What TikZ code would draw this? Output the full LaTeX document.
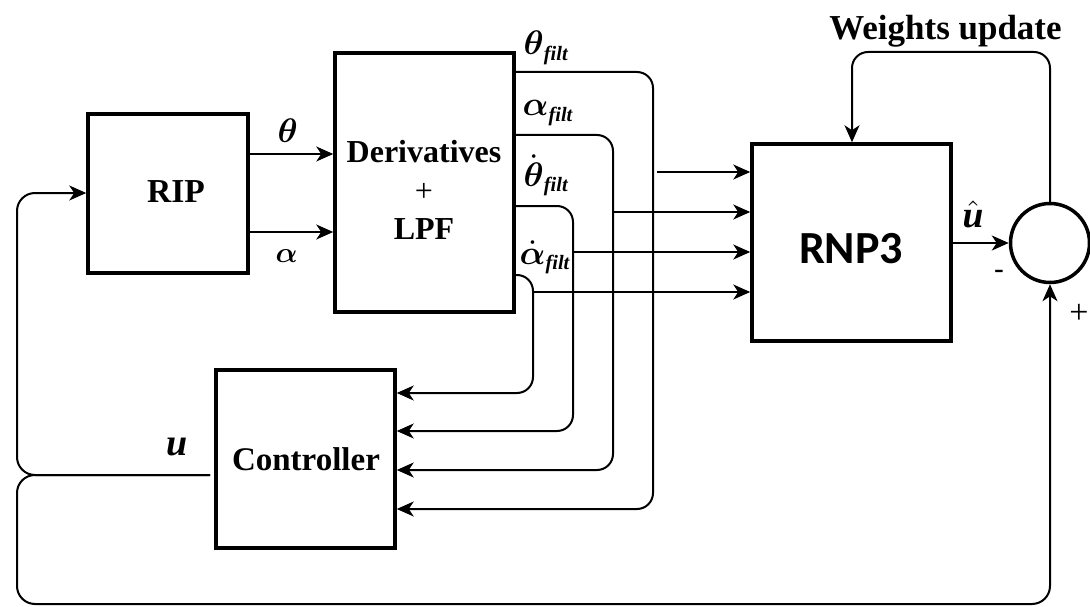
\documentclass[tikz,border=0pt]{standalone}
\usepackage{amsmath}
\usepackage{fontspec}
\setmainfont{Liberation Serif}
\newfontfamily\carlitofont{Carlito}
\usetikzlibrary{arrows.meta}
\newcommand{\filt}{\text{\fontsize{6}{7}\selectfont\bfseries\itshape filt}}
\begin{document}
\begin{tikzpicture}[x=1pt,y=-1pt,
  blk/.style={draw, line width=3.5pt, inner sep=0pt},
  conn/.style={line width=2pt, rounded corners=16pt},
  arr/.style={conn, -{Stealth[length=17pt,width=15pt,inset=5pt]}},
  btxt/.style={font=\fontsize{32}{38}\selectfont\bfseries, inner sep=0pt, anchor=base},
  mth/.style={font=\fontsize{10}{12}\selectfont, scale=3.4, transform shape, inner sep=0pt, anchor=base west},
  itl/.style={font=\fontsize{38}{44}\selectfont, inner sep=0pt, anchor=base west}]
\useasboundingbox (0,0) rectangle (1090,607);
% blocks
\node[blk, minimum width=160pt, minimum height=159pt] (rip) at (168,193.5) {};
\node[blk, minimum width=179pt, minimum height=259pt] (der) at (424.5,182.5) {};
\node[blk, minimum width=179pt, minimum height=178pt] (ctl) at (305.5,459) {};
\node[blk, minimum width=199pt, minimum height=197pt] (rnp) at (851.5,242.5) {};
\node[draw, circle, line width=3.5pt, minimum size=79pt, inner sep=0pt] (sum) at (1050,243) {};
% block texts
\node[btxt, font=\fontsize{33.5}{38}\selectfont\bfseries] (riptxt) at (176,203) {RIP};
\node[btxt] (dertxt) at (424,163) {Derivatives};
\node[font=\fontsize{32}{38}\selectfont, inner sep=0pt] (plustxt) at (424,192) {+};
\node[btxt] (lpftxt) at (424,239) {LPF};
\node[btxt, font=\fontsize{33}{38}\selectfont\bfseries] (ctltxt) at (306,470) {Controller};
\node[font=\fontsize{46}{52}\selectfont\carlitofont\bfseries, inner sep=0pt, anchor=base] (rnptxt) at (851,263) {RNP3};
\node[btxt, font=\fontsize{35}{40}\selectfont\bfseries] (wtxt) at (945.5,40) {Weights update};
% helper coordinates
\coordinate (r154) at (0,154);
\coordinate (r232) at (0,232);
\coordinate (r72) at (0,72);
\coordinate (r135) at (0,135);
\coordinate (r206) at (0,206);
\coordinate (r275) at (0,275);
\coordinate (c393) at (0,393);
\coordinate (c431) at (0,431);
\coordinate (c470) at (0,470);
\coordinate (c509) at (0,509);
\coordinate (n212) at (0,212);
\coordinate (n252) at (0,252);
\coordinate (n292) at (0,292);
\coordinate (x533) at (533,0);
\coordinate (x573) at (573,0);
\coordinate (x613) at (613,0);
\coordinate (x653) at (653,0);
\coordinate (s1) at (657,172);
\coordinate (u0) at (210,475);
\coordinate (xl) at (17,0);
\coordinate (r193) at (0,193);
\coordinate (rb) at (0,604);
\coordinate (r52) at (0,52);
\coordinate (x852) at (852,0);
% RIP -> Derivatives
\draw[arr] (rip.east |- r154) -- (der.west |- r154);
\draw[arr] (rip.east |- r232) -- (der.west |- r232);
% Derivatives -> Controller
\draw[arr] (der.east |- r72) -- (x653 |- r72) -- (x653 |- c509) -- (ctl.east |- c509);
\draw[arr] (der.east |- r135) -- (x613 |- r135) -- (x613 |- c470) -- (ctl.east |- c470);
\draw[arr] (der.east |- r206) -- (x573 |- r206) -- (x573 |- c431) -- (ctl.east |- c431);
\draw[arr] (der.east |- r275) -- (x533 |- r275) -- (x533 |- c393) -- (ctl.east |- c393);
% branches -> RNP3
\draw[arr] (s1) -- (rnp.west |- s1);
\draw[arr] (x613 |- n212) -- (rnp.west |- n212);
\draw[arr] (x573 |- n252) -- (rnp.west |- n252);
\draw[arr] (x533 |- n292) -- (rnp.west |- n292);
% u feedback
\draw[arr, rounded corners=18pt] (u0) -- (xl |- u0) -- (xl |- r193) -- (rip.west |- r193);
\draw[arr, rounded corners=18pt] (u0) -- (xl |- u0) -- (xl |- rb) -- (sum.south |- rb) -- (sum.south);
% RNP3 -> sum
\draw[arr] (rnp.east |- sum) -- (sum.west);
% weights update loop
\draw[arr] (sum.north) -- (sum.north |- r52) -- (x852 |- r52) -- (x852 |- rnp.north);
% labels
\node[mth] (lth) at (277,143) {$\boldsymbol{\theta}$};
\node[mth, scale=0.85] (lal) at (275,262) {$\boldsymbol{\alpha}$};
\node[mth] (lthf) at (523,55) {$\boldsymbol{\theta}_{\filt}$};
\node[mth] (lalf) at (522,116) {$\boldsymbol{\alpha}_{\filt}$};
\node[mth] (lthd) at (523,186) {$\dot{\boldsymbol{\theta}}_{\filt}$};
\node[mth] (lald) at (519,264) {$\dot{\boldsymbol{\alpha}}_{\filt}$};
\node[itl] (lu) at (166,455) {\textbf{\textit{u}}};
\node[mth] (luh) at (962,227) {$\hat{\text{\fontsize{11}{12}\selectfont\bfseries\itshape u}}$};
\node[font=\fontsize{32}{36}\selectfont\carlitofont, inner sep=0pt] (lminus) at (999,275) {-};
\node[font=\fontsize{34}{38}\selectfont, inner sep=0pt] (lplus) at (1079,314) {+};
\end{tikzpicture}
\end{document}
